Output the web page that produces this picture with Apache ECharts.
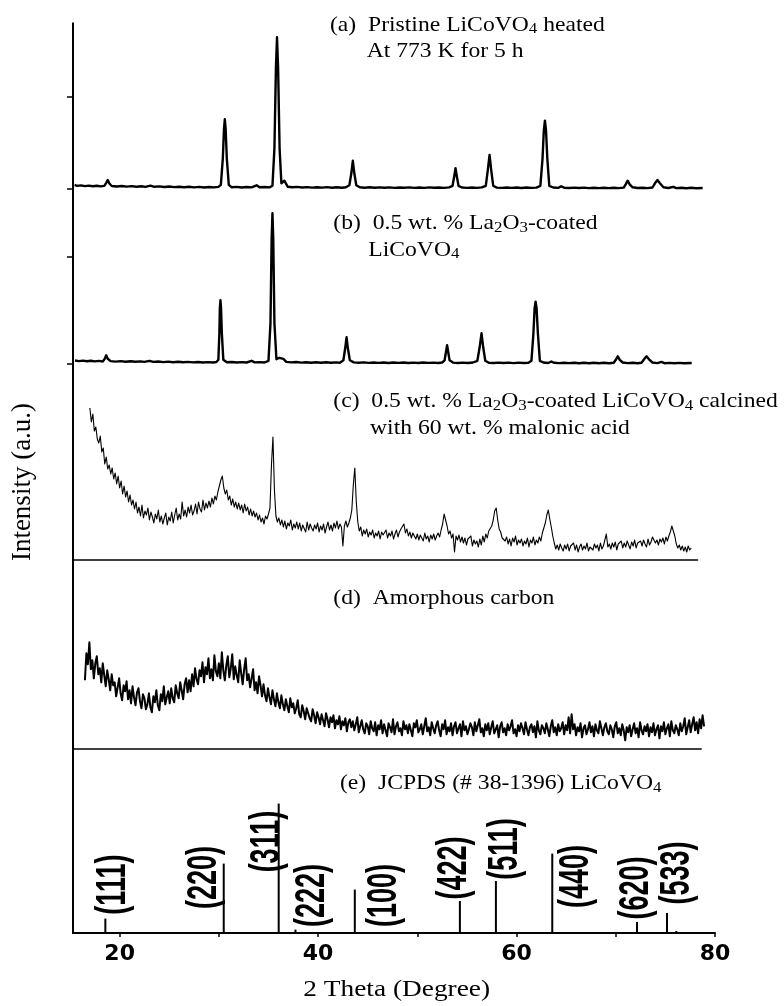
<!DOCTYPE html>
<html>
<head>
<meta charset="utf-8">
<title>XRD patterns of LiCoVO4 samples</title>
<script src="https://cdn.jsdelivr.net/npm/echarts@6.0.0/dist/echarts.min.js"></script>
<style>
  html, body { margin: 0; padding: 0; background: #fff; }
  #main { width: 784px; height: 1006px; }
</style>
</head>
<body>
<div id="main"></div>
<script>
// 2 theta range and bottom axis ticks
var thetaMin = 15.3;
var thetaMax = 80;
var thetaTicks = [20, 30, 40, 50, 60, 70, 80];
var thetaLabels = [20, 40, 60, 80];

// (a) pristine LiCoVO4, [2theta, intensity]
var aPattern = [
  [15.46,3.4],[15.7,2.4],[16.1,2.9],[16.5,2.2],[16.9,2.7],[17.3,2.0],[17.7,2.5],[18.1,1.9],[18.45,2.4],[18.65,5.5],
  [18.8,8.3],[18.95,5.0],[19.2,2.3],[19.7,1.8],[20.2,2.3],[20.7,1.7],[21.2,2.2],[21.7,1.6],[22.2,2.0],[22.6,1.4],
  [23.1,2.6],[23.5,1.5],[24.0,1.9],[24.5,1.3],[25.0,1.8],[25.5,1.2],[26.0,1.6],[26.5,1.0],[27.0,1.5],[27.5,0.9],
  [28.0,1.4],[28.5,0.8],[29.0,1.3],[29.5,0.9],[29.95,1.4],[30.2,3.5],[30.4,30],[30.52,60],[30.6,69],[30.68,60],
  [30.8,30],[31.0,3.5],[31.3,1.0],[31.8,1.4],[32.3,0.8],[32.8,1.3],[33.3,0.9],[33.8,3.0],[34.1,1.0],[34.6,1.3],
  [35.1,0.9],[35.4,2.5],[35.6,40],[35.75,120],[35.86,151],[35.97,120],[36.12,40],[36.3,5],[36.45,6.5],[36.6,7.6],
  [36.75,5],[36.95,1.5],[37.4,1.0],[37.9,1.4],[38.4,0.8],[38.9,1.2],[39.4,0.7],[39.9,1.1],[40.4,0.7],[40.9,1.2],
  [41.4,0.6],[41.9,1.0],[42.4,0.6],[42.8,1.1],[43.15,3],[43.35,15],[43.5,27.5],[43.65,15],[43.85,3],[44.2,1.0],
  [44.7,0.6],[45.2,1.0],[45.7,0.5],[46.2,0.9],[46.7,0.5],[47.2,0.9],[47.7,0.4],[48.2,0.8],[48.7,0.5],[49.2,0.9],
  [49.7,0.4],[50.2,0.8],[50.7,0.4],[51.2,0.9],[51.7,0.5],[52.2,0.8],[52.7,0.4],[53.2,0.9],[53.55,2.5],[53.72,12],
  [53.85,20],[53.98,12],[54.15,2.5],[54.5,0.8],[55.0,0.4],[55.5,0.8],[56.0,0.4],[56.5,0.9],[56.9,2.5],[57.1,18],
  [57.28,33.3],[57.45,18],[57.65,2.5],[58.0,0.7],[58.5,0.4],[59.0,0.8],[59.5,0.4],[60.0,0.8],[60.5,0.3],[61.0,0.8],
  [61.5,0.4],[62.0,0.7],[62.4,2.5],[62.62,30],[62.75,58],[62.86,67.6],[62.97,58],[63.1,30],[63.3,2.5],[63.7,0.8],
  [64.2,0.4],[64.5,2.0],[64.8,0.6],[65.3,0.3],[65.8,0.7],[66.3,0.3],[66.8,0.7],[67.3,0.2],[67.8,0.6],[68.3,0.2],
  [68.8,0.6],[69.3,0.2],[69.8,0.6],[70.3,0.2],[70.8,0.7],[71.0,4],[71.2,7.6],[71.4,4],[71.7,1.0],[72.2,0.3],
  [72.7,0.6],[73.2,0.2],[73.7,0.8],[73.95,5],[74.2,8.3],[74.45,5],[74.8,1.0],[75.3,0.3],[75.8,1.5],[76.1,0.2],
  [76.6,0.5],[77.1,0.1],[77.6,0.5],[78.1,0.1],[78.76,0.3]
];

// (b) 0.5 wt.% La2O3-coated LiCoVO4
var bPattern = [
  [15.5,2.8],[15.9,2.2],[16.3,2.7],[16.7,2.0],[17.1,2.5],[17.5,1.9],[17.9,2.4],[18.3,1.8],[18.5,4.5],[18.65,8],
  [18.8,4.5],[19.1,2.2],[19.6,1.7],[20.1,2.2],[20.6,1.6],[21.1,2.1],[21.6,1.5],[22.1,1.9],[22.5,1.4],[23.0,2.5],
  [23.4,1.4],[23.9,1.8],[24.4,1.2],[24.9,1.7],[25.4,1.1],[25.9,1.5],[26.4,1.0],[26.9,1.4],[27.4,0.9],[27.9,1.3],
  [28.4,0.8],[28.9,1.2],[29.4,0.8],[29.75,1.3],[29.95,3.5],[30.05,30],[30.1,55],[30.16,63],[30.22,55],[30.3,30],
  [30.45,3.5],[30.8,1.0],[31.3,1.3],[31.8,0.8],[32.3,1.2],[32.8,0.8],[33.3,2.5],[33.6,0.9],[34.1,1.2],[34.6,0.8],
  [35.0,2.5],[35.2,40],[35.32,125],[35.4,150],[35.48,125],[35.6,40],[35.8,4],[36.1,5.5],[36.3,7],[36.5,4.5],
  [36.8,1.4],[37.3,0.9],[37.8,1.3],[38.3,0.7],[38.8,1.1],[39.3,0.6],[39.8,1.0],[40.3,0.6],[40.8,1.1],[41.3,0.5],
  [41.8,0.9],[42.2,0.6],[42.55,3],[42.73,15],[42.87,26],[43.0,15],[43.2,3],[43.6,0.9],[44.1,0.5],[44.6,0.9],
  [45.1,0.4],[45.6,0.8],[46.1,0.4],[46.6,0.8],[47.1,0.3],[47.6,0.8],[48.1,0.4],[48.6,0.8],[49.1,0.3],[49.6,0.7],
  [50.1,0.3],[50.6,0.8],[51.1,0.4],[51.6,0.7],[52.1,0.3],[52.5,0.8],[52.75,3],[52.9,12],[53.0,18],[53.1,12],
  [53.25,3],[53.6,0.7],[54.1,0.3],[54.6,0.7],[55.1,0.3],[55.6,0.8],[56.05,2.5],[56.28,16],[56.47,30],[56.64,16],
  [56.85,2.5],[57.2,0.6],[57.7,0.3],[58.2,0.7],[58.7,0.3],[59.2,0.7],[59.7,0.2],[60.2,0.7],[60.7,0.3],[61.2,0.6],
  [61.5,2.5],[61.7,30],[61.82,55],[61.92,61.7],[62.02,55],[62.15,30],[62.35,2.5],[62.7,0.8],[63.2,0.3],[63.5,1.8],
  [63.8,0.5],[64.3,0.2],[64.8,0.6],[65.3,0.2],[65.8,0.6],[66.3,0.1],[66.8,0.5],[67.3,0.1],[67.8,0.5],[68.3,0.1],
  [68.8,0.5],[69.3,0.1],[69.8,0.6],[70.0,3.5],[70.2,7],[70.4,3.5],[70.7,0.8],[71.2,0.2],[71.7,0.5],[72.2,0.1],
  [72.6,0.6],[72.85,4],[73.1,7],[73.35,4],[73.7,0.8],[74.2,0.2],[74.6,1.4],[74.9,0.1],[75.4,0.4],[75.9,0.0],
  [76.4,0.4],[76.9,0.0],[77.65,0.3]
];

// (c) coated LiCoVO4 calcined with 60 wt.% malonic acid, scan from 17.0 deg in 0.15 deg steps
var cStart = 17.0;
var cStep = 0.15;
var cCounts = [
  152,138,146,129,133,121,117,124,108,112,
  96,103,91,95,86,92,81,87,76,84,
  72,79,66,74,63,69,58,65,55,60,
  51,58,47,53,44,55,42,49,45,52,
  40,48,43,37,46,41,50,38,44,36,
  42,47,35,43,39,48,37,45,52,40,
  46,41,58,44,50,43,53,47,55,45,
  49,56,46,58,51,48,60,50,57,52,
  59,53,62,56,64,60,68,74,80,84,
  72,66,70,60,64,55,61,53,58,51,
  57,50,55,47,56,49,53,45,51,44,
  49,43,47,40,45,38,42,36,44,41,
  46,52,95,123,70,44,38,42,35,40,
  33,39,31,37,34,40,30,36,32,38,
  31,37,29,35,33,28,38,30,36,32,
  29,35,31,37,28,34,30,36,27,33,
  38,30,35,29,37,32,39,31,36,33,
  14,34,39,33,37,42,50,75,92,58,
  38,29,33,24,30,26,31,23,28,25,
  30,22,27,24,29,21,28,25,23,30,
  22,27,24,29,21,26,30,23,28,31,
  29,36,27,31,24,28,22,27,25,21,
  26,20,25,22,19,27,21,24,18,25,
  21,26,20,24,27,23,30,36,46,48,
  34,26,29,22,26,8,24,20,25,18,
  23,17,22,15,21,19,24,14,20,16,
  19,13,21,15,24,18,26,22,29,27,
  34,40,49,52,40,31,28,22,24,19,
  23,16,21,14,22,18,24,15,20,17,
  21,14,19,16,22,13,20,17,23,15,
  20,17,23,19,27,32,37,45,50,41,
  33,24,17,11,15,10,16,12,9,15,
  11,16,9,14,12,17,10,15,8,13,
  16,10,14,11,17,9,13,15,10,16,
  12,15,9,17,11,14,20,26,13,16,
  11,17,13,18,10,16,14,19,12,17,
  13,19,15,11,18,14,20,12,17,15,
  19,14,20,16,13,21,15,18,23,25,
  17,20,15,21,18,22,16,23,19,24,
  28,34,36,24,16,12,15,10,14,9,
  13,8,14,10,12
];
var cBaselineEnd = 78.3;

// (d) amorphous carbon, scan from 16.5 deg in 0.15 deg steps
var dStart = 16.5;
var dStep = 0.15;
var dCounts = [
  68,95,84,106,79,88,70,85,92,74,
  80,66,85,73,62,78,69,58,74,63,
  66,52,61,70,55,48,63,57,67,49,
  58,45,62,51,43,56,60,47,40,54,
  50,39,44,55,41,36,52,46,58,43,
  38,54,47,62,44,51,57,45,60,50,
  46,63,55,50,66,58,49,64,70,56,
  68,57,74,62,80,69,64,78,72,86,
  66,81,74,90,70,79,68,93,77,72,
  85,70,96,78,68,83,92,71,80,94,
  69,82,73,66,88,75,64,79,90,68,
  74,61,70,79,58,66,55,72,63,52,
  64,53,47,60,51,44,58,49,42,55,
  46,40,53,44,38,49,42,36,50,41,
  45,35,40,48,34,31,43,37,29,40,
  38,30,27,39,33,25,36,31,24,34,
  28,22,35,29,21,31,26,33,20,28,
  24,32,19,27,23,30,17,26,29,21,
  27,18,24,31,16,22,28,19,15,25,
  22,14,27,20,17,26,13,23,19,28,
  15,24,18,12,25,21,16,29,14,22,
  26,17,20,13,27,19,23,15,24,18,
  12,25,21,28,16,19,24,14,22,30,
  17,21,13,26,20,15,23,27,18,12,
  24,19,28,14,21,17,25,13,22,26,
  15,20,24,12,27,18,22,14,19,25,
  21,13,26,17,23,29,16,20,12,24,
  18,25,14,21,27,15,19,23,11,22,
  26,16,20,13,24,18,22,28,15,19,
  12,23,17,25,20,14,26,19,13,21,
  24,16,22,11,27,18,14,23,20,15,
  25,19,12,22,28,16,21,13,24,17,
  20,26,14,23,18,31,15,34,19,24,
  13,21,17,25,11,20,23,14,19,26,
  16,22,12,24,18,15,27,20,13,21,
  25,17,14,23,19,11,22,26,15,20,
  13,24,18,8,21,16,23,12,19,25,
  15,20,11,26,18,14,22,17,24,12,
  21,16,25,13,19,23,10,22,17,26,
  14,20,24,12,27,18,15,23,19,13,
  25,17,22,30,14,21,28,16,24,31,
  18,26,15,29,20,33,22
];
var dBaselineEnd = 78.66;

// (e) JCPDS 38-1396 reference lines
var jcpdsTheta = [18.56, 30.49, 36.03, 37.72, 43.7, 54.29, 57.92, 63.6, 72.14, 75.16, 76.1];
var jcpdsIntensity = [14.4, 69.4, 129.4, 3.4, 43.4, 32, 52, 79.4, 11, 20, 2];
var jcpdsHkl = ['(111)', '(220)', '(311)', '(222)', '(100)', '(422)', '(511)', '(440)', '(620)', '(533)', ''];

// layout of the five stacked panels (px)
var plotLeft = 73;
var plotWidth = 642;
var panelTop = [23.3, 188.3, 363.3, 560, 748.3];
var panelSpan = [165, 175, 196.7, 188.3, 184.7];
// where each hkl label sits, relative to the top of its line (px)
var hklOffset = [[8, -34], [-20, 14], [-12, 38], [17, -34], [29, 6], [-6, -33], [9, -32], [24, 23], [-1, -34], [10, -40], [0, 0]];

var serif = '"Liberation Serif", "Times New Roman", serif';

var scan = function (start, step, counts) {
    return counts.map(function (v, i) {
        return [+(start + i * step).toFixed(2), v];
    });
};

var chart = echarts.init(document.getElementById('main'));

var grids = [];
var xAxes = [];
var yAxes = [];
panelTop.forEach(function (top, i) {
    grids.push({ left: plotLeft, width: plotWidth, top: top, height: panelSpan[i] });
    xAxes.push({
        gridIndex: i,
        type: 'value',
        min: thetaMin,
        max: thetaMax,
        show: i === 4,
        axisLine: { lineStyle: { color: '#000', width: 2 } },
        axisTick: {
            customValues: thetaTicks,
            length: 4,
            lineStyle: { color: '#000', width: 1.5 }
        },
        axisLabel: {
            customValues: thetaLabels,
            color: '#000',
            fontFamily: '"DejaVu Sans", sans-serif',
            fontWeight: 'bold',
            fontSize: 22,
            margin: 10
        },
        splitLine: { show: false }
    });
    var yTicks = i === 0 ? [0, 91.6] : (i === 1 ? [0, 106.3] : null);
    yAxes.push({
        gridIndex: i,
        type: 'value',
        min: 0,
        max: panelSpan[i],
        axisLine: { show: true, lineStyle: { color: '#000', width: 2 } },
        axisTick: {
            show: !!yTicks,
            customValues: yTicks || [],
            length: 6,
            lineStyle: { color: '#000', width: 1.5 }
        },
        axisLabel: { show: false },
        splitLine: { show: false }
    });
});

var traceSeries = function (idx, data, width, baseEnd) {
    var s = {
        type: 'line',
        xAxisIndex: idx,
        yAxisIndex: idx,
        data: data,
        symbol: 'none',
        clip: false,
        silent: true,
        lineStyle: { color: '#000', width: width, join: 'round' }
    };
    if (baseEnd) {
        s.markLine = {
            silent: true,
            symbol: ['none', 'none'],
            label: { show: false },
            lineStyle: { color: '#000', width: 1.5, type: 'solid' },
            data: [[{ coord: [thetaMin, 0] }, { coord: [baseEnd, 0] }]]
        };
    }
    return s;
};

// one annotation line, stretched a bit sideways like the source figure
var note = function (x, y, text) {
    return {
        type: 'text',
        x: x,
        y: y,
        scaleX: 1.125,
        style: {
            text: text,
            fill: '#000',
            fontSize: 21,
            fontFamily: serif,
            lineHeight: 24,
            align: 'left',
            verticalAlign: 'middle',
            rich: {
                s: { fontSize: 15, fontFamily: serif, lineHeight: 16, verticalAlign: 'bottom', fill: '#000' }
            }
        }
    };
};

var option = {
    backgroundColor: '#fff',
    animation: false,
    grid: grids,
    xAxis: xAxes,
    yAxis: yAxes,
    series: [
        traceSeries(0, aPattern, 2.4),
        traceSeries(1, bPattern, 2.4),
        traceSeries(2, scan(cStart, cStep, cCounts), 1.1, cBaselineEnd),
        traceSeries(3, scan(dStart, dStep, dCounts), 2, dBaselineEnd),
        {
            type: 'custom',
            xAxisIndex: 4,
            yAxisIndex: 4,
            clip: false,
            silent: true,
            data: jcpdsTheta.map(function (t, i) { return [t, jcpdsIntensity[i]]; }),
            renderItem: function (params, api) {
                var i = params.dataIndex;
                var foot = api.coord([api.value(0), 0]);
                var top = api.coord([api.value(0), api.value(1)]);
                return {
                    type: 'group',
                    children: [
                        {
                            type: 'line',
                            shape: { x1: foot[0], y1: foot[1], x2: top[0], y2: top[1] },
                            style: { stroke: '#000', lineWidth: 2 }
                        },
                        {
                            type: 'text',
                            x: top[0] + hklOffset[i][0],
                            y: top[1] + hklOffset[i][1],
                            rotation: Math.PI / 2,
                            scaleY: 1.6,
                            style: {
                                text: jcpdsHkl[i],
                                fill: '#000',
                                fontSize: 27,
                                fontWeight: 'bold',
                                fontFamily: '"Liberation Sans", Arial, sans-serif',
                                align: 'center',
                                verticalAlign: 'middle'
                            }
                        }
                    ]
                };
            }
        }
    ],
    graphic: [
        note(330, 25, '(a)  Pristine LiCoVO{s|4} heated'),
        note(366.7, 51.7, 'At 773 K for 5 h'),
        note(333.3, 223.3, '(b)  0.5 wt. % La{s|2}O{s|3}-coated'),
        note(368.3, 250, 'LiCoVO{s|4}'),
        note(333.3, 401.7, '(c)  0.5 wt. % La{s|2}O{s|3}-coated LiCoVO{s|4} calcined'),
        note(370, 428.3, 'with 60 wt. % malonic acid'),
        note(333.3, 598.3, '(d)  Amorphous carbon'),
        note(340, 783.3, '(e)  JCPDS (# 38-1396) LiCoVO{s|4}'),
        {
            type: 'text',
            x: 23,
            y: 482,
            rotation: Math.PI / 2,
            style: {
                text: 'Intensity (a.u.)',
                fill: '#000',
                fontSize: 27,
                fontFamily: serif,
                align: 'center',
                verticalAlign: 'middle'
            }
        },
        {
            type: 'text',
            x: 396.7,
            y: 990,
            scaleX: 1.14,
            style: {
                text: '2 Theta (Degree)',
                fill: '#000',
                fontSize: 24,
                fontFamily: serif,
                align: 'center',
                verticalAlign: 'middle'
            }
        }
    ]
};

option && chart.setOption(option);
</script>
</body>
</html>
